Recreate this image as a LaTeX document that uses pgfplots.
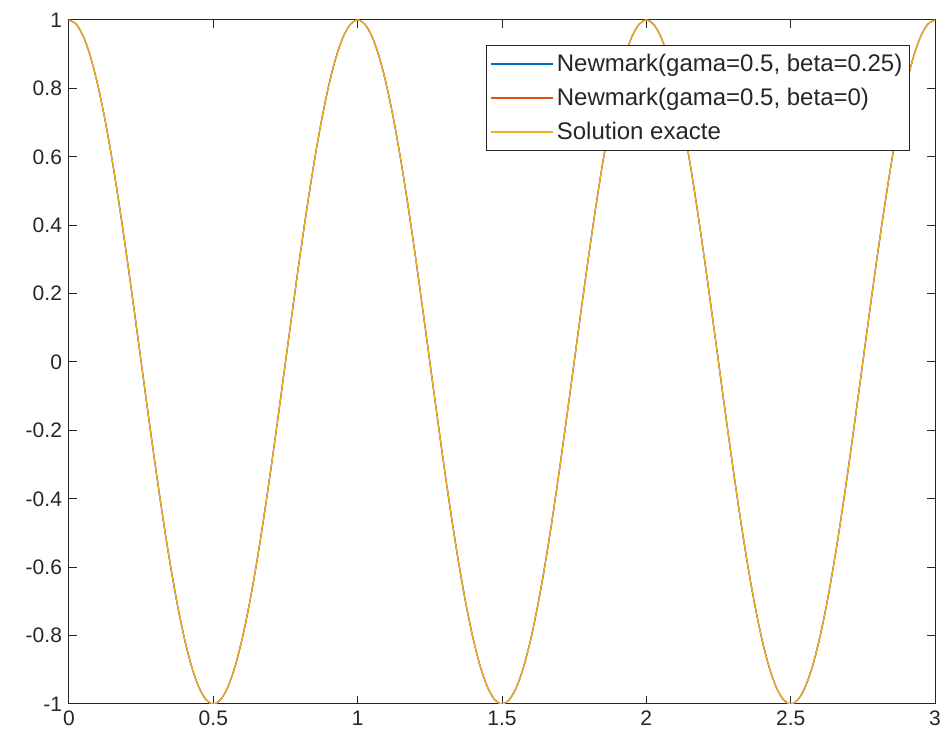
\documentclass[border=0pt]{standalone}
\usepackage{pgfplots}
\pgfplotsset{compat=1.18}
\usepackage{pgfplotstable}
\usepackage{fontspec}
\setmainfont{Liberation Sans}

\definecolor{matblue}{rgb}{0,0.447,0.741}
\definecolor{matorange}{rgb}{0.85,0.325,0.098}
\definecolor{matyellow}{rgb}{0.929,0.694,0.125}
\definecolor{axgray}{rgb}{0.15,0.15,0.15}

% one period of the response, repeated three times
\pgfplotstableread{
t y
0 1
0.025 0.9877
0.05 0.9511
0.075 0.8910
0.1 0.8090
0.125 0.7071
0.15 0.5878
0.175 0.4540
0.2 0.3090
0.225 0.1564
0.25 0
0.275 -0.1564
0.3 -0.3090
0.325 -0.4540
0.35 -0.5878
0.375 -0.7071
0.4 -0.8090
0.425 -0.8910
0.45 -0.9511
0.475 -0.9877
0.5 -1
0.525 -0.9877
0.55 -0.9511
0.575 -0.8910
0.6 -0.8090
0.625 -0.7071
0.65 -0.5878
0.675 -0.4540
0.7 -0.3090
0.725 -0.1564
0.75 0
0.775 0.1564
0.8 0.3090
0.825 0.4540
0.85 0.5878
0.875 0.7071
0.9 0.8090
0.925 0.8910
0.95 0.9511
0.975 0.9877
1 1
1.025 0.9877
1.05 0.9511
1.075 0.8910
1.1 0.8090
1.125 0.7071
1.15 0.5878
1.175 0.4540
1.2 0.3090
1.225 0.1564
1.25 0
1.275 -0.1564
1.3 -0.3090
1.325 -0.4540
1.35 -0.5878
1.375 -0.7071
1.4 -0.8090
1.425 -0.8910
1.45 -0.9511
1.475 -0.9877
1.5 -1
1.525 -0.9877
1.55 -0.9511
1.575 -0.8910
1.6 -0.8090
1.625 -0.7071
1.65 -0.5878
1.675 -0.4540
1.7 -0.3090
1.725 -0.1564
1.75 0
1.775 0.1564
1.8 0.3090
1.825 0.4540
1.85 0.5878
1.875 0.7071
1.9 0.8090
1.925 0.8910
1.95 0.9511
1.975 0.9877
2 1
2.025 0.9877
2.05 0.9511
2.075 0.8910
2.1 0.8090
2.125 0.7071
2.15 0.5878
2.175 0.4540
2.2 0.3090
2.225 0.1564
2.25 0
2.275 -0.1564
2.3 -0.3090
2.325 -0.4540
2.35 -0.5878
2.375 -0.7071
2.4 -0.8090
2.425 -0.8910
2.45 -0.9511
2.475 -0.9877
2.5 -1
2.525 -0.9877
2.55 -0.9511
2.575 -0.8910
2.6 -0.8090
2.625 -0.7071
2.65 -0.5878
2.675 -0.4540
2.7 -0.3090
2.725 -0.1564
2.75 0
2.775 0.1564
2.8 0.3090
2.825 0.4540
2.85 0.5878
2.875 0.7071
2.9 0.8090
2.925 0.8910
2.95 0.9511
2.975 0.9877
3 1
}\sol

\begin{document}
\begin{tikzpicture}
\begin{axis}[
    name=ax,
    scale only axis,
    width=433pt, height=342pt,
    xmin=0, xmax=3, ymin=-1, ymax=1,
    xtick={0,0.5,...,3},
    ytick={-1,-0.8,...,1},
    xticklabels={0,0.5,1,1.5,2,2.5,3},
    yticklabels={-1,-0.8,-0.6,-0.4,-0.2,0,0.2,0.4,0.6,0.8,1},
    tick align=inside,
    major tick length=4pt,
    axis line style={axgray, line width=0.5pt},
    tick style={axgray, line width=0.5pt},
    every tick label/.append style={font=\fontsize{10.5}{12}\selectfont, text=axgray},
    /pgf/number format/assume math mode=true,
    legend style={at={(0.971,0.963)}, anchor=north east, draw=axgray,
        line width=0.5pt, fill=white, font=\fontsize{12}{14}\selectfont,
        text=axgray, row sep=2.8pt, inner sep=2pt,
        nodes={inner xsep=1.5pt}},
    legend cell align=left,
    legend image code/.code={\draw[#1, line width=0.8pt] (0pt,0pt) -- (31pt,0pt);},
]
\addplot[matblue, line width=0.6pt, smooth] table {\sol};
\addlegendentry{Newmark(gama=0.5, beta=0.25)}
\addplot[matorange, line width=0.6pt, smooth] table {\sol};
\addlegendentry{Newmark(gama=0.5, beta=0)}
\addplot[matyellow, line width=0.6pt, smooth] table {\sol};
\addlegendentry{Solution exacte}
\end{axis}
\pgfresetboundingbox
\path ([shift={(-34.5pt,-22.5pt)}]ax.south west) rectangle ([shift={(6.5pt,10pt)}]ax.north east);
\end{tikzpicture}
\end{document}
